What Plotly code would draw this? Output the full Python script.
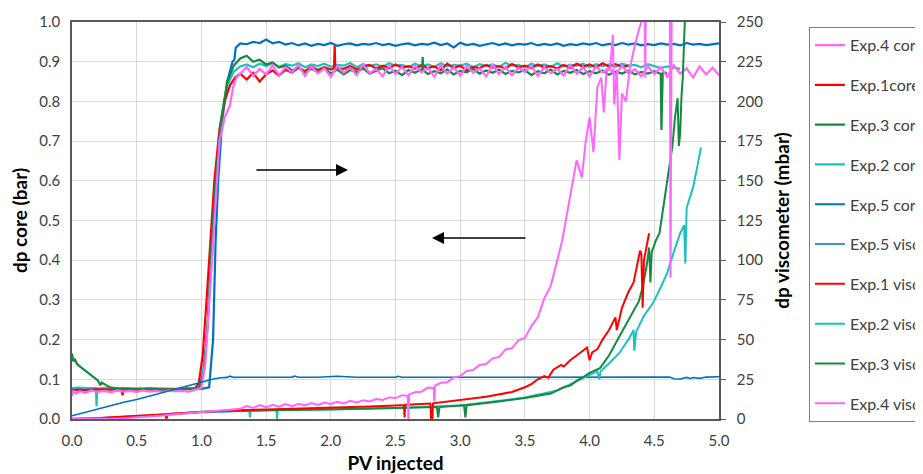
import plotly.graph_objects as go

# ---------------- data ----------------
PLATEAU_START = 1.30
PLATEAU_STEP = 0.05

# Core dp (bar) -- baseline & rise part
exp4_core_pre_x = [0, 0.01, 0.03, 0.06, 0.1, 0.15, 0.2, 0.25, 0.3, 0.35, 0.4, 0.45, 0.5, 0.55, 0.6, 0.65, 0.7, 0.75,
                   0.8, 0.85, 0.9, 0.95, 1.0, 1.03, 1.06, 1.09, 1.12, 1.14, 1.18, 1.22, 1.245, 1.27]
exp4_core_pre_y = [0.058, 0.072, 0.064, 0.07, 0.066, 0.072, 0.068, 0.071, 0.067, 0.072, 0.069, 0.071, 0.068, 0.072,
                   0.069, 0.071, 0.068, 0.072, 0.07, 0.071, 0.069, 0.073, 0.078, 0.14, 0.3, 0.45, 0.62, 0.70, 0.76,
                   0.79, 0.836, 0.86]
exp4_core_plateau = [0.870, 0.887, 0.864, 0.882, 0.868, 0.891, 0.866, 0.886, 0.873, 0.892,
                     0.864, 0.888, 0.870, 0.883, 0.862, 0.889, 0.872, 0.885, 0.866, 0.893,
                     0.871, 0.882, 0.863, 0.890, 0.869, 0.887, 0.866, 0.889, 0.873, 0.884,
                     0.862, 0.891, 0.870, 0.886, 0.865, 0.889, 0.872, 0.883, 0.863, 0.892,
                     0.869, 0.887, 0.866, 0.885, 0.874, 0.890, 0.864, 0.887, 0.871, 0.882,
                     0.865, 0.892, 0.870, 0.886, 0.863, 0.888, 0.873, 0.884, 0.866, 0.890,
                     0.871, 0.881, 0.863, 0.889, 0.869, 0.886, 0.862, 0.891, 0.870, 0.883,
                     0.860, 0.888, 0.868, 0.885, 0.866]
exp4_core_spikes_x = []
exp4_core_spikes_y = []

exp1_core_pre_x = [0, 0.05, 0.1, 0.2, 0.3, 0.38, 0.39, 0.40, 0.5, 0.6, 0.7, 0.8, 0.9, 0.95,
                   0.98, 1.01, 1.04, 1.07, 1.10, 1.14, 1.18, 1.22, 1.26]
exp1_core_pre_y = [0.072, 0.074, 0.073, 0.075, 0.074, 0.075, 0.06, 0.075, 0.074, 0.075, 0.074, 0.075, 0.076, 0.077,
                   0.09, 0.16, 0.3, 0.45, 0.6, 0.73, 0.8, 0.84, 0.86]
exp1_core_plateau = [0.870, 0.855, 0.872, 0.850, 0.868, 0.878, 0.865, 0.880, 0.872, 0.885,
                     0.876, 0.888, 0.879, 0.886, 0.880, 0.884, 0.882, 0.889, 0.880, 0.887,
                     0.892, 0.883, 0.890, 0.884, 0.893, 0.885, 0.889, 0.882, 0.891, 0.884,
                     0.888, 0.879, 0.895, 0.884, 0.890, 0.878, 0.887, 0.884, 0.892, 0.885,
                     0.889, 0.883, 0.894, 0.886, 0.890, 0.884, 0.893, 0.886, 0.889, 0.883,
                     0.892, 0.885, 0.895, 0.887, 0.893, 0.886, 0.896, 0.888, 0.894, 0.887,
                     0.890]
exp1_core_spikes_x = [2.025, 2.03, 2.035]
exp1_core_spikes_y = [0.884, 0.940, 0.884]

exp3_core_pre_x = [0, 0.01, 0.02, 0.04, 0.07, 0.1, 0.13, 0.16, 0.2, 0.22, 0.23, 0.27, 0.3, 0.35, 0.4, 0.5, 0.6,
                   0.7, 0.8, 0.9, 0.98, 1.02, 1.05, 1.08, 1.11, 1.15, 1.2, 1.25]
exp3_core_pre_y = [0.165, 0.145, 0.152, 0.138, 0.13, 0.122, 0.114, 0.106, 0.097, 0.085, 0.092, 0.084, 0.079, 0.077,
                   0.076, 0.075, 0.076, 0.074, 0.075, 0.075, 0.078, 0.12, 0.25, 0.45, 0.6, 0.75, 0.85, 0.89]
exp3_core_plateau = [0.908, 0.915, 0.900, 0.905, 0.893, 0.898, 0.885, 0.890, 0.878, 0.886,
                     0.872, 0.882, 0.875, 0.884, 0.870, 0.880, 0.868, 0.879, 0.874, 0.883,
                     0.870, 0.878, 0.884, 0.871, 0.877, 0.866, 0.879, 0.872, 0.881, 0.869,
                     0.876, 0.871, 0.880, 0.868, 0.877, 0.873, 0.882, 0.870, 0.878, 0.872,
                     0.880, 0.869, 0.877, 0.873, 0.879, 0.866, 0.876, 0.871, 0.880, 0.868,
                     0.877, 0.872, 0.879, 0.869, 0.876, 0.871, 0.878, 0.867, 0.875, 0.870,
                     0.877, 0.868, 0.874, 0.870, 0.876, 0.869, 0.872]
exp3_core_spikes_x = [2.705, 2.71, 2.715, 4.545, 4.555, 4.565]
exp3_core_spikes_y = [0.878, 0.912, 0.878, 0.870, 0.728, 0.872]

exp2_core_pre_x = [0, 0.05, 0.1, 0.15, 0.185, 0.19, 0.195, 0.25, 0.3, 0.4, 0.5, 0.6, 0.7, 0.8, 0.9, 0.97,
                   1.0, 1.04, 1.08, 1.11, 1.15, 1.2, 1.25]
exp2_core_pre_y = [0.078, 0.079, 0.078, 0.079, 0.078, 0.032, 0.077, 0.078, 0.077, 0.078, 0.077, 0.078, 0.077, 0.076,
                   0.077, 0.077, 0.085, 0.2, 0.4, 0.6, 0.74, 0.84, 0.875]
exp2_core_plateau = [0.888, 0.893, 0.886, 0.895, 0.889, 0.897, 0.887, 0.894, 0.890, 0.896,
                     0.886, 0.893, 0.889, 0.895, 0.887, 0.892, 0.890, 0.897, 0.886, 0.894,
                     0.889, 0.893, 0.887, 0.896, 0.890, 0.892, 0.886, 0.895, 0.889, 0.893,
                     0.887, 0.896, 0.888, 0.892, 0.890, 0.895, 0.886, 0.894, 0.889, 0.893,
                     0.887, 0.897, 0.890, 0.892, 0.886, 0.895, 0.889, 0.893, 0.887, 0.896,
                     0.888, 0.892, 0.890, 0.895, 0.886, 0.894, 0.889, 0.893, 0.887, 0.895,
                     0.890, 0.892, 0.886, 0.894, 0.889, 0.884, 0.888, 0.885, 0.882]
exp2_core_spikes_x = []
exp2_core_spikes_y = []

exp5_core_pre_x = [0, 0.5, 1.0, 1.06, 1.09, 1.11, 1.13, 1.16, 1.2, 1.24, 1.255, 1.265]
exp5_core_pre_y = [0.075, 0.075, 0.076, 0.08, 0.2, 0.45, 0.6, 0.75, 0.85, 0.9, 0.905, 0.935]
exp5_core_plateau = [0.946, 0.944, 0.950, 0.947, 0.956, 0.946, 0.950, 0.943, 0.947, 0.941,
                     0.946, 0.940, 0.945, 0.942, 0.947, 0.940, 0.944, 0.946, 0.941, 0.945,
                     0.943, 0.947, 0.942, 0.945, 0.940, 0.944, 0.946, 0.941, 0.945, 0.943,
                     0.948, 0.942, 0.946, 0.936, 0.948, 0.942, 0.945, 0.940, 0.944, 0.947,
                     0.942, 0.946, 0.941, 0.945, 0.943, 0.947, 0.941, 0.945, 0.942, 0.946,
                     0.940, 0.944, 0.942, 0.946, 0.943, 0.947, 0.941, 0.945, 0.942, 0.947,
                     0.943, 0.946, 0.941, 0.944, 0.942, 0.946, 0.943, 0.945, 0.941, 0.947,
                     0.943, 0.945, 0.942, 0.944, 0.946]
exp5_core_spikes_x = []
exp5_core_spikes_y = []

# Viscometer dp (mbar)
exp5_visc_x = [0, 0.1, 0.2, 0.3, 0.4, 0.5, 0.6, 0.7, 0.8, 0.9, 1.0, 1.05, 1.1, 1.15, 1.2, 1.22, 1.25, 1.3, 1.5,
               1.7, 1.72, 1.75, 1.9, 2.0, 2.05, 2.2, 2.5, 2.52, 2.55, 3.0, 3.5, 4.0, 4.5, 4.62, 4.65, 4.7, 4.75,
               4.78, 4.8, 4.85, 4.9, 5.0]
exp5_visc_y = [2, 4.2, 6.3, 8.5, 10.5, 12.3, 14.5, 16.5, 18.7, 20.8, 23, 24.3, 25.4, 26, 26.2, 27, 26.2, 26.3, 26.3,
               26.4, 27, 26.3, 26.3, 26.4, 26.9, 26.3, 26.3, 26.9, 26.3, 26.3, 26.4, 26.4, 26.5, 26.4, 25.3, 25.2,
               26.2, 25.5, 26.1, 25.6, 26.4, 26.6]

exp1_visc_x = [0, 0.2, 0.4, 0.6, 0.72, 0.73, 0.74, 0.8, 1.0, 1.2, 1.5, 1.8, 2.0, 2.3, 2.5, 2.565, 2.57, 2.575, 2.7,
               2.77, 2.775, 2.785, 2.79, 2.8, 3.0, 3.2, 3.4, 3.5, 3.55, 3.6, 3.65, 3.68, 3.72, 3.78, 3.8, 3.85,
               3.9, 3.93, 3.96, 3.98, 4.0, 4.02, 4.06, 4.1, 4.15, 4.2, 4.21, 4.25, 4.3, 4.34, 4.37, 4.39, 4.4,
               4.41, 4.42, 4.45, 4.46]
exp1_visc_y = [0, 0.5, 1.5, 2.5, 3, 0, 3.2, 3.5, 4.5, 5.3, 6, 6.6, 7, 7.8, 8.5, 8.8, 1, 9, 9.5,
               9.8, 0, 0, 9.9, 10, 12, 14, 17, 20, 22, 25, 27, 26, 31, 34, 33, 37,
               40, 42, 44, 45, 37, 42, 44, 50, 56, 64, 56, 70, 80, 86, 98, 106, 104,
               70, 100, 113, 117]

exp2_visc_x = [0, 0.5, 1.0, 1.37, 1.375, 1.38, 1.58, 1.585, 1.59, 2.0, 2.5, 3.0, 3.5, 3.75, 3.9, 4.0, 4.06, 4.075,
               4.085, 4.15, 4.23, 4.3, 4.34, 4.345, 4.36, 4.42, 4.49, 4.55, 4.6, 4.65, 4.68, 4.7, 4.73, 4.74, 4.75,
               4.78, 4.8, 4.83, 4.86]
exp2_visc_y = [0, 1.2, 4.3, 5.2, 1, 5.2, 5.7, 0, 5.7, 6.2, 7, 8.5, 13.5, 18, 24, 28, 30, 25,
               30, 35, 41.6, 50, 56, 43, 55, 65, 73, 83, 92, 105, 113, 117, 122, 98, 133,
               140, 146, 158, 171]

exp3_visc_x = [0, 0.5, 1.0, 1.5, 2.0, 2.5, 2.82, 2.83, 2.84, 3.0, 3.03, 3.04, 3.05, 3.3, 3.5, 3.7, 3.8, 3.85,
               3.9, 3.95, 4.0, 4.08, 4.15, 4.23, 4.3, 4.35, 4.38, 4.41, 4.44, 4.46, 4.47, 4.48, 4.51, 4.54, 4.58,
               4.62, 4.64, 4.66, 4.675, 4.68, 4.69, 4.70, 4.71, 4.72, 4.74]
exp3_visc_y = [0, 1.5, 4.5, 5.5, 6, 7, 7.5, 1, 7.5, 8.5, 8.6, 1, 8.7, 11, 13.2, 16, 20, 21,
               24, 26.4, 29, 32, 40, 52, 62, 70, 74, 83, 96, 108, 86, 105, 112, 117, 140,
               160, 172, 190, 199, 202, 172, 180, 203, 215, 260]

exp4_visc_x = [0, 0.1, 0.2, 0.3, 0.4, 0.5, 0.6, 0.7, 0.8, 0.9, 1.0, 1.1, 1.2, 1.3, 1.35, 1.4, 1.45, 1.5, 1.55,
               1.6, 1.65, 1.7, 1.75, 1.8, 1.85, 1.9, 1.95, 2.0, 2.05, 2.1, 2.15, 2.2, 2.25, 2.3, 2.35, 2.4, 2.45,
               2.5, 2.55, 2.595, 2.6, 2.605, 2.65, 2.7, 2.75, 2.795, 2.8, 2.805, 2.85, 2.9, 2.95, 3.0, 3.05, 3.1,
               3.15, 3.2, 3.25, 3.3, 3.35, 3.4, 3.45, 3.5, 3.55, 3.6, 3.65, 3.7, 3.75,
               3.79, 3.82, 3.86, 3.9, 3.94, 3.97, 4.0, 4.03, 4.06, 4.09, 4.11, 4.13, 4.16, 4.18, 4.19, 4.21,
               4.23, 4.25, 4.28, 4.31, 4.34, 4.38, 4.42, 4.425, 4.43, 4.435, 4.46, 4.62, 4.625, 4.635]
exp4_visc_y = [0.5, 0.3, 0, 0.2, 0.5, 1, 1.6, 2.2, 3, 3.8, 4.5, 5, 5.6, 6.4, 8.2, 7.0, 8.8, 7.4, 9.0,
               7.8, 9.4, 8.0, 9.6, 8.6, 10.0, 8.8, 10.4, 9.4, 10.8, 9.8, 11.4, 10.4, 11.8, 11.0, 12.6, 12.0, 13.6,
               13.2, 15.0, 14.6, -2, 15.5, 16.8, 17.2, 19.8, 19.6, 11, 21, 22.8, 23.2, 26.2, 27.0, 30.2, 30.8,
               34.0, 34.6, 38.2, 39.0, 43.8, 44.6, 49.5, 51.0, 58.5, 64, 76, 84, 100,
               113, 127, 145, 163, 152, 175, 190, 168, 209, 215, 193, 218, 222, 242, 198, 220,
               163, 205, 200, 220, 232, 245, 255, 265, 215, 265, 270, 270, 89, 270]

C_MAG = "#FF66FF"
C_RED = "#FF0000"
C_GRN = "#138A3F"
C_CYN = "#1CC0C0"
C_BLU = "#0070C0"


def core_series(pre_x, pre_y, plateau, sx, sy):
    px = [round(PLATEAU_START + PLATEAU_STEP * i, 3) for i in range(len(plateau))]
    pts = list(zip(pre_x, pre_y)) + list(zip(px, plateau)) + list(zip(sx, sy))
    pts.sort(key=lambda p: p[0])
    return [p[0] for p in pts], [p[1] for p in pts]


fig = go.Figure()

# viscometer traces (right axis)
visc = [
    ("Exp.5 visc.", exp5_visc_x, exp5_visc_y, C_BLU, 1.6, 6),
    ("Exp.2 visc.", exp2_visc_x, exp2_visc_y, C_CYN, 2, 8),
    ("Exp.3 visc", exp3_visc_x, exp3_visc_y, C_GRN, 2, 9),
    ("Exp.1 visc.", exp1_visc_x, exp1_visc_y, C_RED, 2, 7),
    ("Exp.4 visc.", exp4_visc_x, exp4_visc_y, C_MAG, 2, 10),
]
for name, x, y, c, w, rank in visc:
    fig.add_trace(go.Scatter(x=x, y=y, name=name, mode="lines", yaxis="y2",
                             line=dict(color=c, width=w), legendrank=rank, legendgroup=name))

cores = [
    ("Exp.5 core", core_series(exp5_core_pre_x, exp5_core_pre_y, exp5_core_plateau, exp5_core_spikes_x, exp5_core_spikes_y), C_BLU, 5),
    ("Exp.2 core", core_series(exp2_core_pre_x, exp2_core_pre_y, exp2_core_plateau, exp2_core_spikes_x, exp2_core_spikes_y), C_CYN, 4),
    ("Exp.1core", core_series(exp1_core_pre_x, exp1_core_pre_y, exp1_core_plateau, exp1_core_spikes_x, exp1_core_spikes_y), C_RED, 2),
    ("Exp.3 core", core_series(exp3_core_pre_x, exp3_core_pre_y, exp3_core_plateau, exp3_core_spikes_x, exp3_core_spikes_y), C_GRN, 3),
    ("Exp.4 core", core_series(exp4_core_pre_x, exp4_core_pre_y, exp4_core_plateau, exp4_core_spikes_x, exp4_core_spikes_y), C_MAG, 1),
]
for name, (x, y), c, rank in cores:
    fig.add_trace(go.Scatter(x=x, y=y, name=name, mode="lines", yaxis="y",
                             line=dict(color=c, width=2.2), legendrank=rank, legendgroup=name))

FONT = "Lato, 'Open Sans', Arial, sans-serif"
TICKC = "#404040"
AXC = "#595959"
GRIDC = "#D9D9D9"
TITLE_FONT = dict(size=19, color="#000000")

fig.update_layout(
    width=915, height=466,
    margin=dict(l=64, r=204, t=14, b=55, autoexpand=False),
    paper_bgcolor="white", plot_bgcolor="white",
    font=dict(family=FONT, size=15, color=TICKC),
    xaxis=dict(range=[0, 5], dtick=0.5, tick0=0, tickformat=".1f", showgrid=True, gridcolor=GRIDC,
               gridwidth=1, showline=True, linecolor=AXC, linewidth=1.5, mirror=True, ticks="",
               zeroline=False, ticklabelstandoff=7,
               title=dict(text="<b>PV injected</b>", font=TITLE_FONT, standoff=12)),
    yaxis=dict(range=[0, 1], dtick=0.1, tick0=0, tickformat=".1f", showgrid=True, gridcolor=GRIDC,
               gridwidth=1, showline=True, linecolor=AXC, linewidth=1.5, ticks="", zeroline=False,
               ticklabelstandoff=7,
               title=dict(text="<b>dp core (bar)</b>", font=TITLE_FONT, standoff=14)),
    yaxis2=dict(range=[0, 250], dtick=25, tick0=0, overlaying="y", side="right", showgrid=False,
                showline=True, linecolor=AXC, linewidth=1.5, ticks="outside", ticklen=5, tickcolor=AXC,
                zeroline=False, ticklabelstandoff=8,
                title=dict(text="<b>dp viscometer (mbar)</b>", font=TITLE_FONT, standoff=14)),
    legend=dict(x=1.139, y=0.987, xanchor="left", yanchor="top", bordercolor="#7F7F7F", borderwidth=1,
                font=dict(size=16, color=TICKC), traceorder="grouped", tracegroupgap=16,
                bgcolor="white"),
    showlegend=True,
)

# arrows indicating axes
fig.add_annotation(x=2.133, y=0.627, ax=1.414, ay=0.627, xref="x", yref="y", axref="x", ayref="y",
                   showarrow=True, arrowhead=2, arrowsize=1.6, arrowwidth=1.5, arrowcolor="#000000", text="")
fig.add_annotation(x=2.782, y=0.456, ax=3.516, ay=0.456, xref="x", yref="y", axref="x", ayref="y",
                   showarrow=True, arrowhead=2, arrowsize=1.6, arrowwidth=1.5, arrowcolor="#000000", text="")

fig.write_html("out.html")
